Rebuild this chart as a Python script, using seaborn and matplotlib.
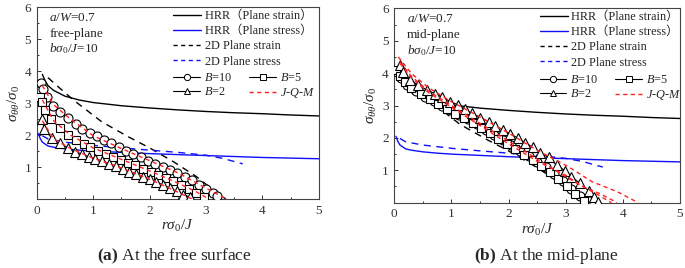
import numpy as np
import pandas as pd
import matplotlib
matplotlib.use('Agg')
import matplotlib.pyplot as plt
from matplotlib.lines import Line2D
from matplotlib.ticker import MultipleLocator
import seaborn as sns

# HRR fields (same in both panels)
hrr_strain_x = [0.1, 0.15, 0.2, 0.3, 0.5, 0.75, 1.0, 1.5, 2.0, 2.5, 3.0, 3.5, 4.0, 4.5, 5.0]
hrr_strain_y = [3.9, 3.7, 3.55, 3.4, 3.22, 3.1, 3.02, 2.92, 2.85, 2.79, 2.74, 2.7, 2.67, 2.63, 2.6]
hrr_stress_x = [0.03, 0.06, 0.1, 0.2, 0.3, 0.5, 0.75, 1.0, 1.5, 2.0, 3.0, 4.0, 5.0]
hrr_stress_y = [2.05, 1.9, 1.78, 1.66, 1.62, 1.57, 1.53, 1.5, 1.46, 1.42, 1.36, 1.3, 1.26]

# 2D solutions
pe2d_x = [0.2, 0.35, 0.65, 1.15, 1.62, 2.0, 2.42, 2.83, 3.13, 3.35]
pe2d_y = [3.8, 3.56, 3.1, 2.42, 1.95, 1.6, 1.17, 0.7, 0.28, 0.0]
ps2d_x = [0.1, 0.2, 0.5, 1.0, 1.5, 2.0, 2.5, 3.0, 3.3, 3.65]
ps2d_y = [1.98, 1.88, 1.78, 1.68, 1.6, 1.53, 1.46, 1.37, 1.27, 1.1]

# (a) free surface
b10a_x = [0.08, 0.12, 0.18, 0.28, 0.42, 0.56, 0.69, 0.81, 0.94, 1.06, 1.19, 1.32, 1.45, 1.58,
          1.71, 1.84, 1.97, 2.1, 2.23, 2.36, 2.49, 2.62, 2.75, 2.88, 3.0, 3.12, 3.2]
b10a_y = [3.62, 3.45, 3.2, 2.92, 2.72, 2.54, 2.36, 2.18, 2.06, 1.96, 1.86, 1.74, 1.62, 1.5,
          1.4, 1.3, 1.2, 1.1, 1.0, 0.92, 0.82, 0.7, 0.58, 0.44, 0.3, 0.18, 0.08]
b5a_x = [0.06, 0.1, 0.15, 0.26, 0.41, 0.56, 0.7, 0.83, 0.95, 1.09, 1.22, 1.36, 1.49, 1.62,
         1.75, 1.88, 2.02, 2.15, 2.29, 2.42, 2.56, 2.7, 2.83, 2.97]
b5a_y = [3.2, 3.04, 2.78, 2.49, 2.22, 2.0, 1.86, 1.73, 1.62, 1.5, 1.42, 1.32, 1.23, 1.14,
         1.05, 0.95, 0.86, 0.76, 0.65, 0.57, 0.45, 0.31, 0.19, 0.05]
b2a_x = [0.1, 0.13, 0.27, 0.41, 0.56, 0.68, 0.8, 0.92, 1.04, 1.16, 1.28, 1.4, 1.52, 1.64,
         1.76, 1.88, 2.0, 2.12, 2.24, 2.36, 2.48, 2.6, 2.72]
b2a_y = [2.5, 2.2, 1.9, 1.74, 1.6, 1.48, 1.41, 1.32, 1.26, 1.19, 1.11, 1.03, 0.95, 0.86,
         0.79, 0.7, 0.62, 0.53, 0.44, 0.34, 0.24, 0.14, 0.05]
jqm10a_x = [0.1, 0.3, 0.6, 1.0, 1.5, 2.0, 2.5, 3.0, 3.36]
jqm10a_y = [3.55, 2.95, 2.5, 1.98, 1.58, 1.2, 0.82, 0.34, 0.0]
jqm5a_x = [0.1, 0.3, 0.6, 1.0, 1.5, 2.0, 2.5, 2.8, 3.05]
jqm5a_y = [3.1, 2.45, 2.0, 1.6, 1.24, 0.88, 0.5, 0.25, 0.0]
jqm2a_x = [0.1, 0.3, 0.6, 1.0, 1.5, 2.0, 2.4, 2.75]
jqm2a_y = [2.45, 1.88, 1.58, 1.28, 0.97, 0.62, 0.3, 0.0]

# (b) mid-plane
b10b_x = [0.05, 0.12, 0.22, 0.38, 0.54, 0.69, 0.84, 0.99, 1.14, 1.29, 1.44, 1.6, 1.75,
          1.9, 2.05, 2.2, 2.35, 2.5, 2.65, 2.8, 2.95, 3.1, 3.25, 3.4, 3.5]
b10b_y = [4.05, 3.86, 3.64, 3.44, 3.27, 3.14, 2.99, 2.85, 2.7, 2.57, 2.42, 2.26, 2.1,
          1.94, 1.77, 1.61, 1.44, 1.27, 1.09, 0.9, 0.66, 0.42, 0.22, 0.05, 0.0]
b5b_x = [0.03, 0.1, 0.18, 0.3, 0.46, 0.62, 0.77, 0.92, 1.07, 1.22, 1.37, 1.52, 1.67, 1.82,
         1.97, 2.12, 2.27, 2.42, 2.57, 2.72, 2.87, 3.02, 3.17, 3.32]
b5b_y = [4.1, 3.9, 3.72, 3.55, 3.35, 3.2, 3.06, 2.9, 2.75, 2.6, 2.46, 2.3, 2.14, 1.98,
         1.82, 1.65, 1.48, 1.31, 1.13, 0.94, 0.73, 0.5, 0.26, 0.05]
b2b_x = [0.1, 0.16, 0.27, 0.42, 0.57, 0.71, 0.83, 0.98, 1.12, 1.24, 1.36, 1.5, 1.65, 1.76,
         1.91, 2.03, 2.17, 2.29, 2.43, 2.55, 2.7, 2.84, 2.99, 3.1, 3.25, 3.4, 3.49, 3.57]
b2b_y = [4.25, 4.04, 3.79, 3.63, 3.48, 3.37, 3.27, 3.12, 3.02, 2.88, 2.76, 2.63, 2.5, 2.37,
         2.24, 2.12, 1.99, 1.85, 1.71, 1.54, 1.4, 1.16, 0.99, 0.8, 0.6, 0.37, 0.19, 0.02]
jqm2b_x = [0.07, 0.3, 0.6, 1.0, 1.5, 2.0, 2.5, 3.05, 3.46, 3.9, 4.27]
jqm2b_y = [4.5, 3.99, 3.55, 3.12, 2.65, 2.15, 1.62, 1.11, 0.65, 0.34, 0.0]
jqm10b_x = [0.1, 0.3, 0.6, 1.0, 1.5, 2.0, 2.5, 2.99, 3.25, 3.57, 3.8]
jqm10b_y = [4.3, 3.85, 3.4, 2.95, 2.38, 1.82, 1.28, 0.86, 0.55, 0.24, 0.0]
jqm5b_x = [0.1, 0.3, 0.6, 1.0, 1.5, 2.0, 2.5, 3.0, 3.3, 3.6, 3.9]
jqm5b_y = [4.35, 3.9, 3.45, 3.0, 2.45, 1.9, 1.35, 0.8, 0.5, 0.28, 0.0]

sns.set_style('ticks')
plt.rcParams['font.family'] = ['Liberation Serif', 'Noto Sans CJK SC']
plt.rcParams['mathtext.fontset'] = 'custom'
plt.rcParams['mathtext.rm'] = 'Liberation Serif'
plt.rcParams['mathtext.it'] = 'Liberation Serif:italic'
plt.rcParams['mathtext.bf'] = 'Liberation Serif:bold'

fig = plt.figure(figsize=(6.85, 2.68), dpi=100)
ax_a = fig.add_axes([0.0536, 0.2575, 0.412, 0.715])
ax_b = fig.add_axes([0.5756, 0.2437, 0.417, 0.725])

DASH_K = (0, (5, 4))
DASH_R = (0, (3, 2.5))
RED = '#ff2020'
BLUE = '#1010ff'
FS = 9.5
LFS = 8.8


def line(ax, x, y, **kw):
    sns.lineplot(x=x, y=y, ax=ax, sort=False, estimator=None, **kw)


def marks(ax, x, y, m, ms):
    line(ax, x, y, color='black', lw=0.8, marker=m, markersize=ms,
         markerfacecolor='white', markeredgecolor='black', markeredgewidth=0.8, zorder=3)


def panel(ax, b10, b5, b2, jqm, plane, lx):
    line(ax, hrr_strain_x, hrr_strain_y, color='black', lw=1.0)
    line(ax, hrr_stress_x, hrr_stress_y, color=BLUE, lw=1.0)
    line(ax, pe2d_x, pe2d_y, color='black', lw=1.0, linestyle=DASH_K)
    line(ax, ps2d_x, ps2d_y, color=BLUE, lw=1.0, linestyle=DASH_K)
    marks(ax, b10[0], b10[1], 'o', 6.5)
    marks(ax, b5[0], b5[1], 's', 5.5)
    marks(ax, b2[0], b2[1], '^', 7)
    for jx, jy in jqm:
        line(ax, jx, jy, color=RED, lw=1.0, linestyle=DASH_R, zorder=4)

    ax.set_xlim(0, 5)
    ax.set_ylim(0, 6)
    ax.set_xticks([0, 1, 2, 3, 4, 5])
    ax.set_yticks([1, 2, 3, 4, 5, 6])
    ax.xaxis.set_minor_locator(MultipleLocator(0.5))
    ax.yaxis.set_minor_locator(MultipleLocator(0.5))
    ax.tick_params(which='both', direction='in', labelsize=FS, colors='#333333', width=0.7)
    ax.tick_params(which='major', length=3, pad=4)
    ax.tick_params(which='minor', length=1.5)
    for s in ax.spines.values():
        s.set_color('#444444')
        s.set_linewidth(0.8)
    ax.set_xlabel(r'$r\sigma_0/J$', fontsize=11, labelpad=1)
    ax.set_ylabel(r'$\sigma_{\theta\theta}/\sigma_0$', fontsize=11, labelpad=2)

    ax.text(0.045, 0.945, r'$a/W$=0.7', transform=ax.transAxes, fontsize=FS, va='center')
    ax.text(0.045, 0.862, plane, transform=ax.transAxes, fontsize=FS, va='center')
    ax.text(0.045, 0.783, r'$b\sigma_0/J$=10', transform=ax.transAxes, fontsize=FS, va='center')

    h1 = [Line2D([], [], color='black', lw=1.0, label='HRR（Plane strain）'),
          Line2D([], [], color=BLUE, lw=1.0, label='HRR（Plane stress）'),
          Line2D([], [], color='black', lw=1.0, linestyle=(0, (3, 2.5)), label='2D Plane strain'),
          Line2D([], [], color=BLUE, lw=1.0, linestyle=(0, (3, 2.5)), label='2D Plane stress')]
    leg1 = ax.legend(handles=h1, loc='upper left', bbox_to_anchor=(lx, 1.0), frameon=False,
                     fontsize=LFS, handlelength=2.3, labelspacing=0.27, borderaxespad=0.0,
                     borderpad=0.2, handletextpad=0.3)
    ax.add_artist(leg1)
    kw = dict(color='black', lw=0.8, markerfacecolor='white', markeredgecolor='black',
              markeredgewidth=0.7)
    h2 = [Line2D([], [], marker='o', markersize=4.5, label=r'$B$=10', **kw),
          Line2D([], [], marker='^', markersize=5, label=r'$B$=2', **kw),
          Line2D([], [], marker='s', markersize=4, label=r'$B$=5', **kw),
          Line2D([], [], color=RED, lw=1.0, linestyle=(0, (3, 2.5)), label=r'$J$-$Q$-$M$')]
    ax.legend(handles=h2, ncol=2, loc='upper left', bbox_to_anchor=(lx, 0.675), frameon=False,
              fontsize=LFS, handlelength=2.2, labelspacing=0.15, borderaxespad=0.0,
              borderpad=0.2, handletextpad=0.3, columnspacing=1.4)


panel(ax_a, (b10a_x, b10a_y), (b5a_x, b5a_y), (b2a_x, b2a_y),
      [(jqm10a_x, jqm10a_y), (jqm5a_x, jqm5a_y), (jqm2a_x, jqm2a_y)], 'free-plane', 0.475)
panel(ax_b, (b10b_x, b10b_y), (b5b_x, b5b_y), (b2b_x, b2b_y),
      [(jqm10b_x, jqm10b_y), (jqm5b_x, jqm5b_y), (jqm2b_x, jqm2b_y)], 'mid-plane', 0.5)

fig.text(0.255, 0.03, r'$\mathbf{(a)}$ At the free surface', ha='center', fontsize=12.5)
fig.text(0.798, 0.03, r'$\mathbf{(b)}$ At the mid-plane', ha='center', fontsize=12.5)

fig.savefig('out.png', dpi=100)
